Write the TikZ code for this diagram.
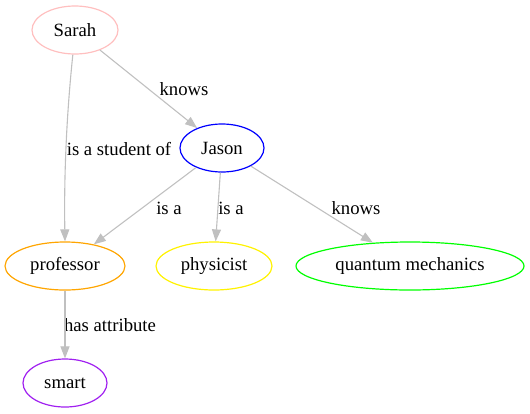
\documentclass[tikz,border=0pt]{standalone}
\usepackage{fontspec}
\setmainfont{Liberation Serif}
\usetikzlibrary{shapes.geometric,arrows.meta}
\definecolor{edgegray}{HTML}{C0C0C0}
\definecolor{gvpurple}{HTML}{A020F0}
\definecolor{gvorange}{HTML}{FFA500}
\tikzset{
  ent/.style={ellipse,draw,line width=1.2pt,minimum height=48pt,inner sep=0pt},
  rel/.style={draw=edgegray,line width=1.1pt,-{Triangle[length=12pt,width=9pt]},edgegray},
}
\begin{document}
\begin{tikzpicture}[x=1pt,y=-1pt]
        \fontsize{18.7}{22}\selectfont
        \useasboundingbox (0,0) rectangle (530,413);
        \node[ent,draw=pink,minimum width=86pt] (sarah) at (75,30) {Sarah};
        \node[ent,draw=blue,minimum width=84pt] (jason) at (222,148) {Jason};
        \node[ent,draw=gvorange,minimum width=120pt] (prof) at (65,266) {professor};
        \node[ent,draw=yellow,minimum width=116pt] (phys) at (214,266) {physicist};
        \node[ent,draw=green,minimum width=228pt] (qm) at (410,266) {quantum mechanics};
        \node[ent,draw=gvpurple,minimum width=84pt] (smart) at (65,383) {smart};
        % edge labels
        \node (l1) at (184,89) {knows};
        \node (l2) at (119,149) {is a student of};
        \node (l3) at (169,208) {is a};
        \node (l4) at (231,208) {is a};
        \node (l5) at (356,208) {knows};
        \node (l6) at (110,325) {has attribute};
        % edges
        \draw[rel] (sarah.-95) .. controls (66,120) and (64,180) .. (prof.north);
        \draw[rel] (sarah) -- (jason);
        \draw[rel] (jason) -- (prof);
        \draw[rel] (jason) -- (phys);
        \draw[rel] (jason) -- (qm);
        \draw[rel] (prof) -- (smart);
\end{tikzpicture}
\end{document}
